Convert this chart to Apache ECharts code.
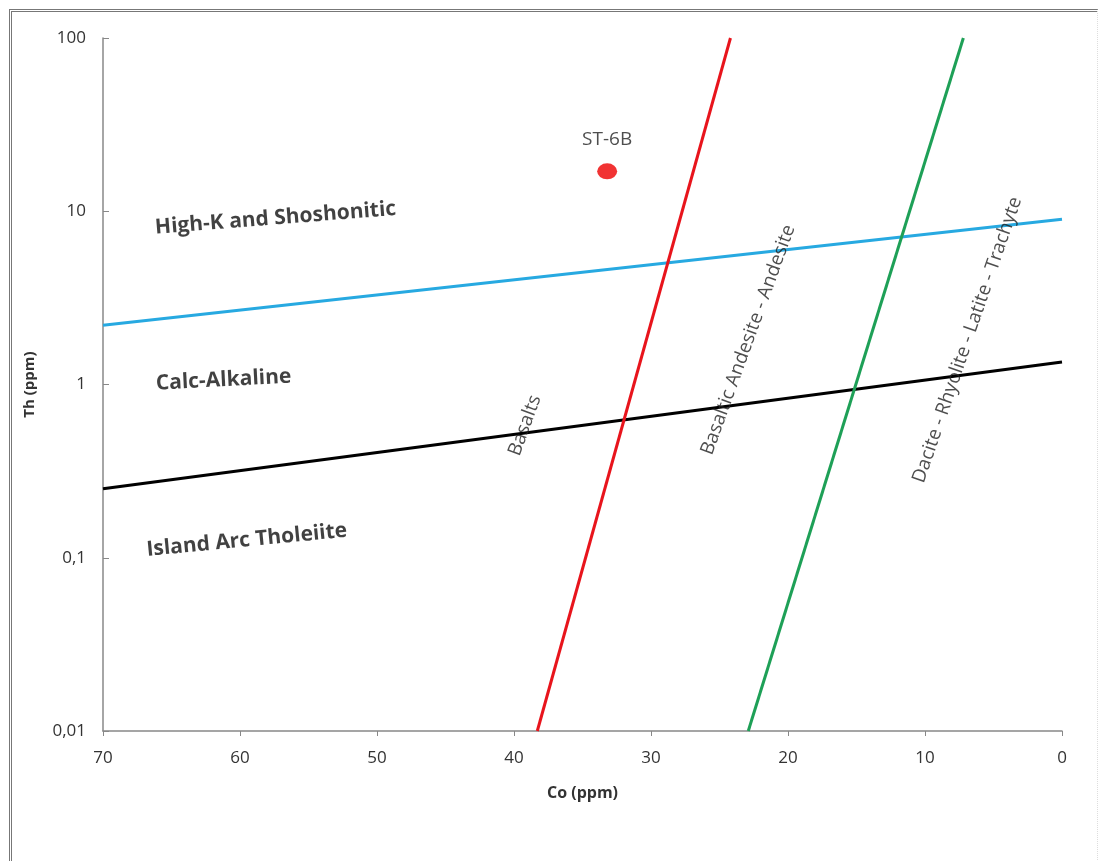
<!DOCTYPE html>
<html><head><meta charset="utf-8">
<script src="https://cdn.jsdelivr.net/npm/echarts@6/dist/echarts.min.js"></script>
<style>
html,body{margin:0;padding:0;background:#fff;overflow:hidden;}
#c{width:1099px;height:861px;}
#frame{position:absolute;left:9px;top:9px;width:1085px;height:870px;border-left:3px double #777;border-top:3px double #777;border-right:1px dotted #ddd;pointer-events:none;}
</style></head>
<body>
<div id="c"></div>
<div id="frame"></div>
<script>
// Axis ticks
const xTicks = [70, 60, 50, 40, 30, 20, 10, 0];
const yTicks = [0.01, 0.1, 1, 10, 100];
// Boundary lines [Co, Th]
const redLine = [[38.3, 0.01], [24.2, 100]];
const greenLine = [[22.9, 0.01], [7.2, 100]];
const blueLine = [[70, 2.2], [0, 9.0]];
const blackLine = [[70, 0.25], [0, 1.35]];
// Sample
const sampleNames = ['ST-6B'];
const sampleCo = [33.2];
const sampleTh = [17.0];
// Field labels: text, Co, Th, rotation
const fieldNames = ['High-K and Shoshonitic', 'Calc-Alkaline', 'Island Arc Tholeiite'];
const fieldCo = [57.4, 61.2, 59.5];
const fieldTh = [9.1, 1.06, 0.126];
const fieldRot = [4.5, 3, 5.5];
const rockNames = ['Basalts', 'Basaltic Andesite - Andesite', 'Dacite - Rhyolite - Latite - Trachyte'];
const rockCo = [39.2, 22.9, 6.9];
const rockTh = [0.58, 1.81, 1.81];
const rockRot = [70, 70, 71];

const chart = echarts.init(document.getElementById('c'));
const fmt = v => String(v).replace('.', ',');
const lineSeries = (d, color) => ({
  type: 'line', data: d, symbol: 'none', silent: true,
  lineStyle: {color: color, width: 3}, z: 2
});
chart.setOption({
  animation: false,
  backgroundColor: '#fff',
  grid: {left: 103, right: 37, top: 38, bottom: 130},
  xAxis: {
    type: 'value', min: 0, max: 70, interval: 10, inverse: true,
    name: 'Co (ppm)', nameLocation: 'middle', nameGap: 54,
    nameTextStyle: {fontFamily: 'Open Sans', fontWeight: 'bold', fontSize: 16, color: '#333'},
    axisLine: {onZero: false, lineStyle: {color: '#888', width: 1.5}},
    axisTick: {show: true, length: 5, lineStyle: {color: '#888'}},
    axisLabel: {fontFamily: 'Open Sans', fontSize: 17, color: '#333', margin: 19},
    splitLine: {show: false}
  },
  yAxis: {
    type: 'log', logBase: 10, min: 0.01, max: 100,
    name: 'Th (ppm)', nameLocation: 'middle', nameGap: 66, nameRotate: 90,
    nameTextStyle: {fontFamily: 'Open Sans', fontWeight: 'bold', fontSize: 15, color: '#333'},
    axisLine: {show: true, onZero: false, lineStyle: {color: '#888', width: 1.5}},
    axisTick: {show: true, inside: true, length: 6, lineStyle: {color: '#888'}},
    axisLabel: {fontFamily: 'Open Sans', fontSize: 17, color: '#333', margin: 17, formatter: v => fmt(v)},
    splitLine: {show: false},
    minorTick: {show: false}
  },
  series: [
    lineSeries(blueLine, '#27a9e1'),
    lineSeries(blackLine, '#000000'),
    lineSeries(redLine, '#e8141c'),
    lineSeries(greenLine, '#1ea057'),
    {
      type: 'scatter', z: 5,
      data: sampleNames.map((n, i) => ({name: n, value: [sampleCo[i], sampleTh[i]]})),
      symbol: 'circle', symbolSize: [20, 16],
      itemStyle: {color: '#ee0000'},
      label: {show: true, position: 'top', distance: 14, formatter: p => p.name,
              fontFamily: 'Open Sans', fontSize: 19, color: '#222'}
    },
    {
      type: 'scatter', z: 6, silent: true, symbolSize: 0,
      data: fieldNames.map((n, i) => ({name: n, value: [fieldCo[i], fieldTh[i]],
        label: {rotate: fieldRot[i]}})),
      label: {show: true, position: 'inside', formatter: p => p.name,
              fontFamily: 'Open Sans', fontWeight: 'bold', fontSize: 21, color: '#111'}
    },
    {
      type: 'scatter', z: 6, silent: true, symbolSize: 0,
      data: rockNames.map((n, i) => ({name: n, value: [rockCo[i], rockTh[i]],
        label: {rotate: rockRot[i]}})),
      label: {show: true, position: 'inside', formatter: p => p.name,
              fontFamily: 'Open Sans', fontSize: 19, color: '#222'}
    }
  ]
});
</script>
</body></html>
